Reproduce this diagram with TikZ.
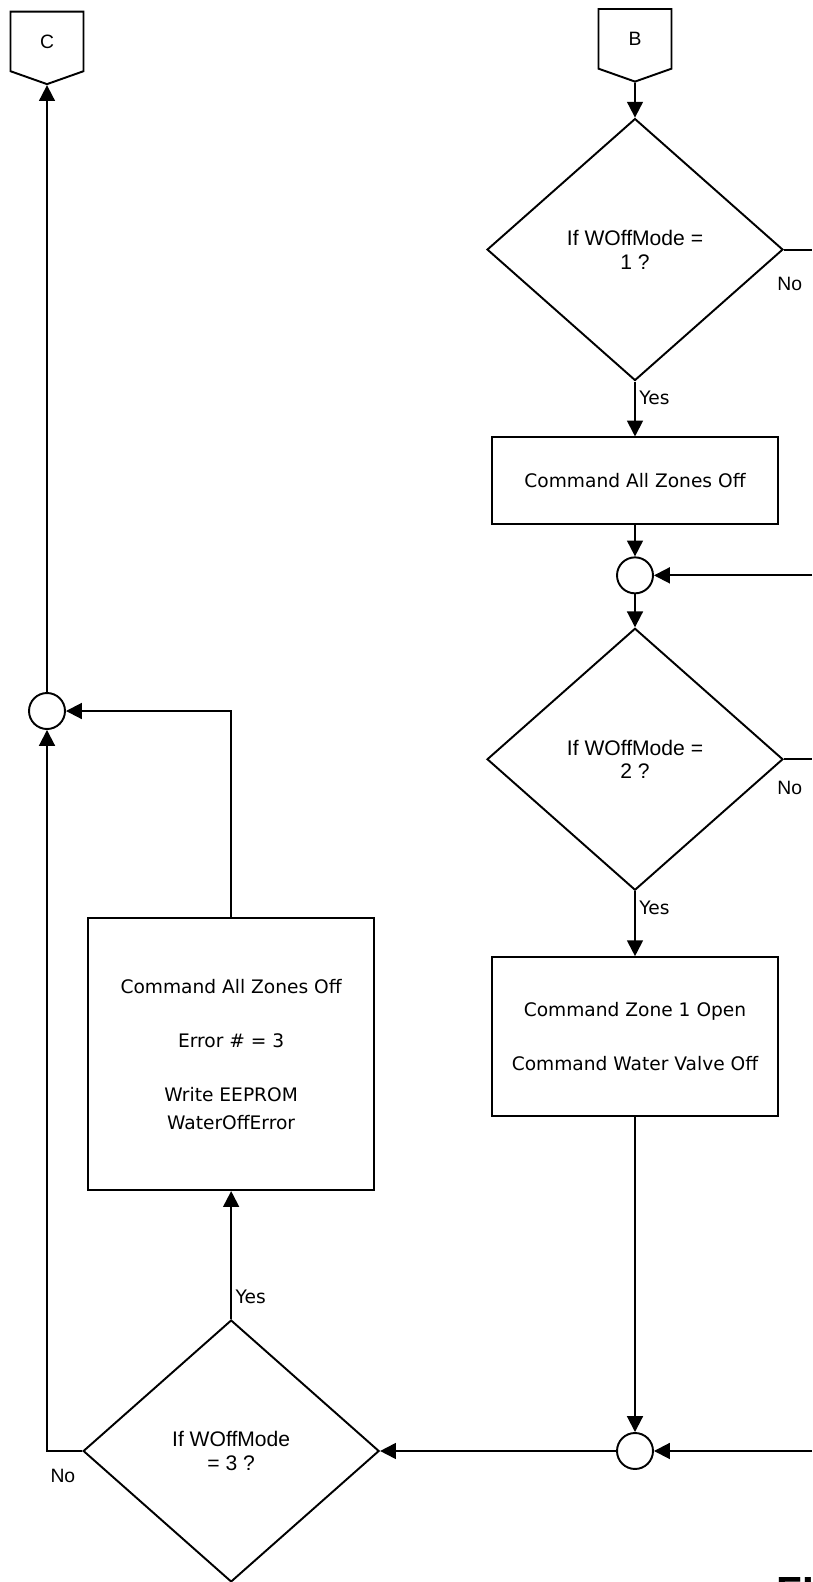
\documentclass[tikz,border=0pt]{standalone}
\usepackage{fontspec}
\setmainfont{Liberation Sans}
\newfontfamily\boxfont{DejaVu Sans}
\usepackage{tikz}
\usetikzlibrary{arrows.meta,positioning,shapes.geometric,shapes.symbols}
\tikzset{proc/.style={draw, line width=1.1pt, align=center, inner sep=0pt, minimum width=5.72cm, font=\boxfont\fontsize{10.6}{15.5}\selectfont}, dec/.style={draw, diamond, line width=1.1pt, align=center, inner sep=0pt, minimum width=5.92cm, minimum height=5.24cm, font=\fontsize{12}{13.5}\selectfont}, junc/.style={draw, circle, line width=1.1pt, minimum size=0.72cm, inner sep=0pt}, offpage/.style={draw, signal, signal to=south, signal from=nowhere, signal pointer angle=141, line width=1.1pt, minimum width=1.46cm, minimum height=1.24cm, inner sep=0pt, font=\fontsize{11}{12}\selectfont}, flow/.style={-{Triangle[length=9pt,width=9pt]}, line width=1.1pt}, wire/.style={line width=1.1pt}, yes/.style={font=\boxfont\fontsize{10.6}{12}\selectfont, inner sep=2pt}, no/.style={font=\fontsize{11}{12}\selectfont, inner sep=2pt}}

\begin{document}
\begin{tikzpicture}[x=0.02cm,y=-0.02cm]
\useasboundingbox (0,0) rectangle (812,1582);
\coordinate (rim) at (812,0);
\node[offpage,anchor=north] (conB) at (635,8) {B};
\node[dec,below=0.7cm of conB] (d1) {If WOffMode =\\1 ?};
\node[proc,below=1.1cm of d1,minimum height=1.74cm] (box1) {Command All Zones Off};
\node[junc,below=0.62cm of box1] (jn1) {};
\node[dec,below=0.66cm of jn1] (d2) {If WOffMode =\\2 ?};
\node[proc,below=1.3cm of d2,minimum height=3.18cm] (box2) {Command Zone 1 Open\\[15.5pt]Command Water Valve Off};
\node[junc,below=6.3cm of box2] (jn2) {};
\node[dec,left=4.72cm of jn2] (d3) {If WOffMode\\= 3 ?};
\node[proc,above=2.56cm of d3,minimum height=5.44cm] (box3) {Command All Zones Off\\[15.5pt]Error \# = 3\\[15.5pt]Write EEPROM\\WaterOffError};
\node[junc] (jnC) at (47,711) {};
\node[offpage,above=12.14cm of jnC] (conC) {C};
\node[anchor=base west,inner sep=0pt,font=\bfseries\fontsize{24}{24}\selectfont] (figno) at (776,1606) {FIG.};
\draw[flow] (conB)--(d1); \draw[flow] (d1)--node[yes,right,pos=0.3]{Yes}(box1); \draw[wire] (d1.east)--(d1.east-|rim) node[no,pos=0,anchor=north west,xshift=-0.22cm,yshift=-0.46cm]{No};
\draw[flow] (box1)--(jn1); \draw[flow] (jn1.east-|rim)--(jn1.east); \draw[flow] (jn1)--(d2);
\draw[wire] (d2.east)--(d2.east-|rim) node[no,pos=0,anchor=north west,xshift=-0.22cm,yshift=-0.34cm]{No}; \draw[flow] (d2)--node[yes,right,pos=0.26]{Yes}(box2);
\draw[flow] (box2)--(jn2); \draw[flow] (jn2.east-|rim)--(jn2.east); \draw[flow] (jn2)--(d3.east);
\draw[flow] (d3)--node[yes,right,pos=0.17]{Yes}(box3); \draw[flow] (d3.west)-|node[no,pos=0,anchor=north east,xshift=-0.05cm,yshift=-0.28cm]{No}(jnC.south);
\draw[flow] (box3.north)|-(jnC.east); \draw[flow] (jnC)--(conC);
\end{tikzpicture}
\end{document}
